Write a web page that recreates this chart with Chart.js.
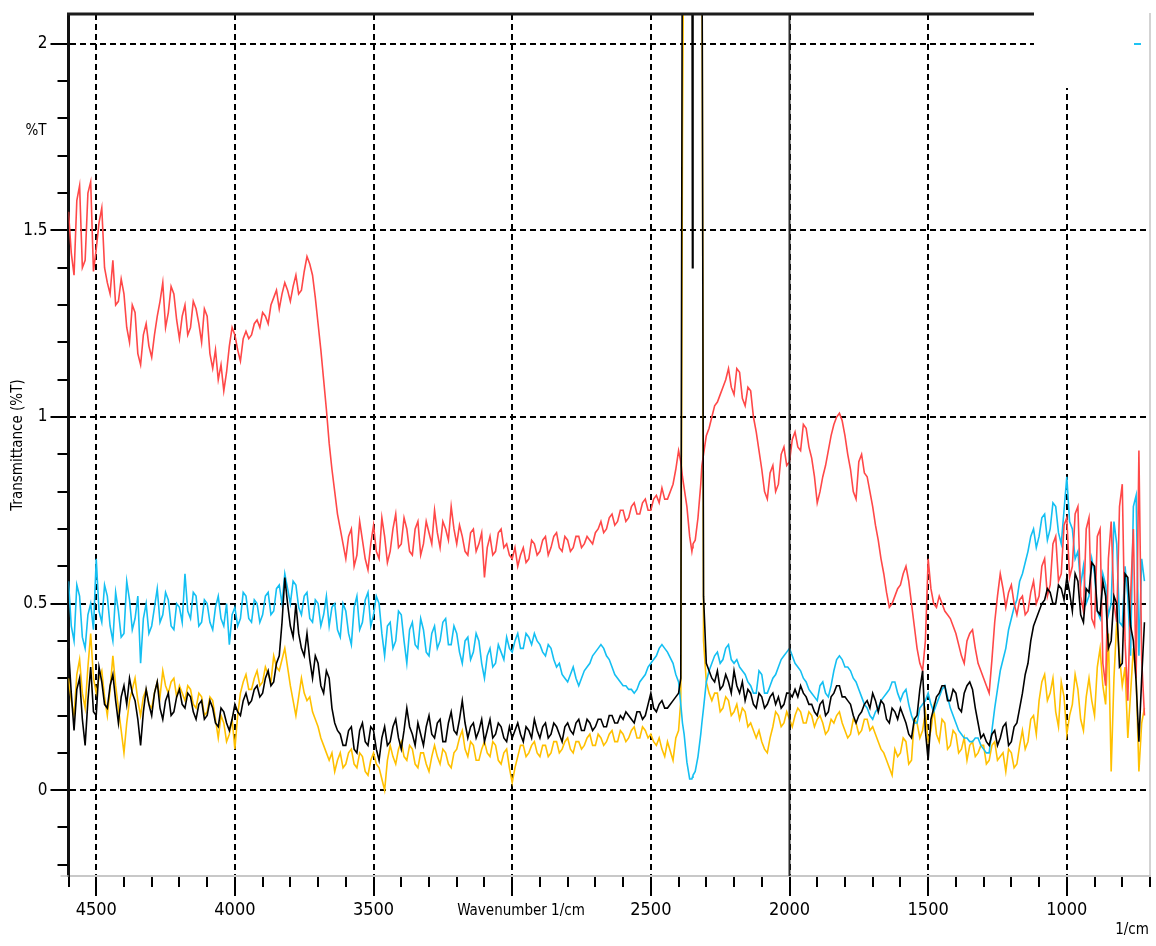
<!DOCTYPE html>
<html><head><meta charset="utf-8">
<script src="https://cdn.jsdelivr.net/npm/chart.js@4/dist/chart.umd.min.js"></script>
<style>html,body{margin:0;padding:0;background:#fff;}canvas{display:block;}</style>
</head><body>
<canvas id="c" width="1156" height="946"></canvas>
<script>
const wavenumbers = [
4600,4590,4580,4570,4560,4550,4540,4530,4520,4510,
4500,4490,4480,4470,4460,4450,4440,4430,4420,4410,
4400,4390,4380,4370,4360,4350,4340,4330,4320,4310,
4300,4290,4280,4270,4260,4250,4240,4230,4220,4210,
4200,4190,4180,4170,4160,4150,4140,4130,4120,4110,
4100,4090,4080,4070,4060,4050,4040,4030,4020,4010,
4000,3990,3980,3970,3960,3950,3940,3930,3920,3910,
3900,3890,3880,3870,3860,3850,3840,3830,3820,3810,
3800,3790,3780,3770,3760,3750,3740,3730,3720,3710,
3700,3690,3680,3670,3660,3650,3640,3630,3620,3610,
3600,3590,3580,3570,3560,3550,3540,3530,3520,3510,
3500,3490,3480,3470,3460,3450,3440,3430,3420,3410,
3400,3390,3380,3370,3360,3350,3340,3330,3320,3310,
3300,3290,3280,3270,3260,3250,3240,3230,3220,3210,
3200,3190,3180,3170,3160,3150,3140,3130,3120,3110,
3100,3090,3080,3070,3060,3050,3040,3030,3020,3010,
3000,2990,2980,2970,2960,2950,2940,2930,2920,2910,
2900,2890,2880,2870,2860,2850,2840,2830,2820,2810,
2800,2790,2780,2770,2760,2750,2740,2730,2720,2710,
2700,2690,2680,2670,2660,2650,2640,2630,2620,2610,
2600,2590,2580,2570,2560,2550,2540,2530,2520,2510,
2500,2490,2480,2470,2460,2450,2440,
2420,2410,2400,2392,2386,2380,2370,2360,2352,2350,2348,2340,2330,2320,2316,2310,2300,2290,
2280,2270,2260,2250,2240,2230,2220,2210,2200,2190,
2180,2170,2160,2150,2140,2130,2120,2110,2100,2090,
2080,2070,2060,2050,2040,2030,2020,2010,2000,1990,
1980,1970,1960,1950,1940,1930,1920,1910,1900,1890,
1880,1870,1860,1850,1840,1830,1820,1810,1800,1790,
1780,1770,1760,1750,1740,1730,1720,1710,1700,1690,
1680,1670,1660,1650,1640,1630,1620,1610,1600,1590,
1580,1570,1560,1550,1540,1530,1520,1510,1500,1490,
1480,1470,1460,1450,1440,1430,1420,1410,1400,1390,
1380,1370,1360,1350,1340,1330,1320,1310,1300,1290,
1280,1270,1260,1250,1240,1230,1220,1210,1200,1190,
1180,1170,1160,1150,1140,1130,1120,1110,1100,1090,
1080,1070,1060,1050,1040,1030,1020,1010,1000,990,
980,970,960,950,940,930,920,910,900,890,
880,870,860,850,840,830,820,810,800,790,
780,770,760,750,740,730,720];

const redSeries = [
1.55,1.44,1.38,1.58,1.62,1.40,1.42,1.60,1.63,1.39,
1.45,1.52,1.56,1.40,1.36,1.33,1.42,1.30,1.31,1.37,
1.33,1.24,1.20,1.30,1.28,1.17,1.14,1.22,1.25,1.19,
1.16,1.22,1.27,1.31,1.36,1.24,1.28,1.35,1.33,1.26,
1.21,1.27,1.30,1.22,1.24,1.31,1.29,1.25,1.20,1.29,
1.27,1.17,1.13,1.18,1.10,1.14,1.07,1.12,1.19,1.24,
1.22,1.18,1.15,1.21,1.23,1.21,1.22,1.25,1.26,1.24,
1.28,1.27,1.25,1.30,1.32,1.34,1.29,1.33,1.36,1.34,
1.31,1.35,1.38,1.33,1.34,1.39,1.43,1.41,1.38,1.32,
1.25,1.18,1.10,1.02,0.93,0.86,0.80,0.74,0.70,0.66,
0.62,0.68,0.70,0.60,0.63,0.72,0.67,0.62,0.59,0.66,
0.71,0.64,0.62,0.73,0.68,0.61,0.64,0.70,0.74,0.65,
0.66,0.73,0.70,0.64,0.63,0.70,0.72,0.63,0.66,0.72,
0.69,0.66,0.75,0.69,0.65,0.72,0.70,0.67,0.76,0.70,
0.66,0.71,0.68,0.64,0.63,0.69,0.70,0.64,0.66,0.69,
0.57,0.65,0.68,0.63,0.64,0.69,0.70,0.65,0.66,0.63,
0.62,0.65,0.60,0.63,0.65,0.61,0.62,0.67,0.66,0.63,
0.64,0.67,0.68,0.63,0.65,0.68,0.69,0.65,0.64,0.68,
0.67,0.64,0.65,0.68,0.68,0.65,0.66,0.68,0.67,0.66,
0.69,0.70,0.72,0.69,0.70,0.73,0.74,0.71,0.72,0.75,
0.75,0.72,0.73,0.76,0.77,0.74,0.74,0.77,0.78,0.75,
0.75,0.78,0.79,0.77,0.81,0.78,0.78,
0.82,0.86,0.91,0.88,0.84,0.81,0.76,0.68,0.64,0.65,0.66,0.67,0.73,0.82,0.87,0.90,0.95,0.97,
1.00,1.03,1.04,1.06,1.08,1.10,1.13,1.08,1.06,1.13,
1.12,1.05,1.03,1.08,1.07,1.00,0.96,0.91,0.86,0.80,
0.78,0.85,0.87,0.80,0.82,0.90,0.92,0.87,0.88,0.94,
0.96,0.92,0.91,0.98,0.97,0.92,0.89,0.84,0.77,0.80,
0.84,0.87,0.91,0.95,0.98,1.00,1.01,0.99,0.95,0.90,
0.86,0.80,0.78,0.88,0.90,0.85,0.84,0.80,0.76,0.71,
0.67,0.62,0.58,0.53,0.49,0.50,0.52,0.54,0.55,0.58,
0.60,0.56,0.50,0.44,0.38,0.34,0.32,0.40,0.62,0.54,
0.50,0.49,0.52,0.50,0.48,0.47,0.46,0.44,0.42,0.39,
0.36,0.34,0.40,0.42,0.43,0.38,0.34,0.32,0.30,0.28,
0.26,0.35,0.45,0.52,0.58,0.54,0.49,0.53,0.55,0.50,
0.47,0.51,0.52,0.47,0.48,0.53,0.56,0.50,0.52,0.60,
0.62,0.52,0.55,0.66,0.68,0.56,0.58,0.71,0.73,0.57,
0.60,0.74,0.76,0.52,0.48,0.70,0.73,0.46,0.44,0.68,
0.70,0.34,0.28,0.62,0.72,0.50,0.45,0.76,0.82,0.40,
0.24,0.52,0.70,0.30,0.91,0.35,0.20];

const cyanSeries = [
0.56,0.44,0.40,0.55,0.52,0.41,0.38,0.47,0.50,0.43,
0.62,0.48,0.45,0.55,0.52,0.44,0.40,0.53,0.48,0.41,
0.42,0.56,0.51,0.43,0.46,0.52,0.34,0.46,0.50,0.42,
0.44,0.49,0.54,0.45,0.47,0.53,0.51,0.44,0.43,0.50,
0.49,0.45,0.58,0.48,0.46,0.53,0.52,0.44,0.45,0.51,
0.50,0.45,0.43,0.49,0.52,0.46,0.44,0.50,0.39,0.47,
0.49,0.44,0.46,0.53,0.52,0.46,0.45,0.51,0.50,0.45,
0.47,0.52,0.53,0.47,0.48,0.54,0.55,0.50,0.58,0.54,
0.50,0.56,0.55,0.49,0.47,0.52,0.53,0.46,0.45,0.51,
0.50,0.44,0.47,0.52,0.44,0.49,0.50,0.43,0.41,0.50,
0.48,0.42,0.39,0.49,0.52,0.43,0.45,0.51,0.53,0.44,
0.47,0.52,0.50,0.42,0.36,0.44,0.45,0.38,0.40,0.48,
0.47,0.40,0.34,0.43,0.45,0.39,0.38,0.46,0.43,0.37,
0.36,0.42,0.44,0.38,0.40,0.45,0.46,0.39,0.39,0.44,
0.42,0.37,0.34,0.40,0.41,0.35,0.37,0.42,0.40,0.34,
0.30,0.36,0.38,0.33,0.34,0.39,0.37,0.35,0.41,0.38,
0.37,0.40,0.42,0.38,0.38,0.42,0.41,0.39,0.42,0.40,
0.39,0.37,0.36,0.39,0.38,0.35,0.33,0.34,0.31,0.30,
0.29,0.31,0.33,0.30,0.28,0.30,0.32,0.33,0.34,0.36,
0.37,0.38,0.39,0.38,0.36,0.35,0.33,0.31,0.30,0.29,
0.28,0.28,0.27,0.27,0.26,0.27,0.29,0.30,0.31,0.33,
0.34,0.35,0.36,0.38,0.39,0.38,0.37,
0.34,0.31,0.29,0.23,0.18,0.15,0.075,0.03,0.03,0.035,0.04,0.05,0.09,0.15,0.18,0.22,0.29,0.32,
0.34,0.36,0.37,0.34,0.35,0.38,0.39,0.35,0.34,0.35,
0.33,0.32,0.31,0.29,0.28,0.26,0.26,0.32,0.31,0.26,
0.26,0.28,0.30,0.31,0.33,0.35,0.36,0.37,0.38,0.36,
0.34,0.33,0.32,0.30,0.29,0.27,0.26,0.25,0.24,0.28,
0.29,0.26,0.25,0.28,0.32,0.35,0.36,0.35,0.33,0.33,
0.32,0.30,0.29,0.27,0.25,0.23,0.22,0.20,0.19,0.21,
0.22,0.24,0.25,0.26,0.27,0.29,0.29,0.26,0.24,0.26,
0.27,0.23,0.20,0.18,0.18,0.22,0.23,0.24,0.26,0.23,
0.21,0.23,0.25,0.27,0.28,0.25,0.22,0.20,0.18,0.16,
0.15,0.14,0.14,0.13,0.13,0.14,0.14,0.12,0.11,0.10,
0.10,0.16,0.22,0.27,0.32,0.35,0.38,0.43,0.46,0.49,
0.51,0.56,0.58,0.61,0.64,0.68,0.70,0.65,0.68,0.73,
0.74,0.67,0.70,0.77,0.76,0.69,0.66,0.75,0.84,0.72,
0.70,0.62,0.64,0.55,0.60,0.50,0.52,0.62,0.58,0.48,
0.46,0.58,0.55,0.47,0.50,0.72,0.66,0.45,0.44,0.60,
0.52,0.36,0.76,0.79,0.36,0.62,0.56];

const blackSeries = [
0.38,0.26,0.16,0.27,0.30,0.19,0.12,0.24,0.33,0.21,
0.20,0.33,0.29,0.23,0.22,0.28,0.31,0.24,0.18,0.25,
0.28,0.23,0.30,0.26,0.24,0.19,0.12,0.21,0.27,0.23,
0.20,0.26,0.29,0.22,0.19,0.24,0.26,0.20,0.21,0.25,
0.27,0.23,0.22,0.26,0.25,0.21,0.19,0.23,0.24,0.19,
0.20,0.24,0.22,0.18,0.17,0.22,0.21,0.18,0.16,0.19,
0.23,0.21,0.20,0.24,0.26,0.23,0.24,0.27,0.28,0.25,
0.26,0.30,0.32,0.28,0.29,0.34,0.36,0.45,0.57,0.50,
0.44,0.41,0.50,0.42,0.38,0.36,0.42,0.35,0.30,0.36,
0.34,0.28,0.26,0.32,0.30,0.22,0.18,0.16,0.15,0.12,
0.12,0.16,0.17,0.11,0.10,0.16,0.18,0.13,0.12,0.17,
0.16,0.11,0.08,0.14,0.17,0.12,0.13,0.17,0.19,0.14,
0.11,0.16,0.22,0.17,0.15,0.12,0.18,0.15,0.12,0.17,
0.20,0.15,0.14,0.18,0.19,0.13,0.13,0.18,0.21,0.16,
0.15,0.19,0.24,0.18,0.14,0.17,0.18,0.14,0.16,0.19,
0.13,0.16,0.19,0.14,0.15,0.18,0.17,0.14,0.13,0.17,
0.14,0.16,0.18,0.15,0.13,0.17,0.16,0.14,0.19,0.16,
0.14,0.17,0.18,0.14,0.15,0.18,0.17,0.15,0.13,0.17,
0.18,0.16,0.15,0.18,0.19,0.16,0.16,0.19,0.18,0.16,
0.17,0.19,0.19,0.17,0.17,0.20,0.20,0.18,0.18,0.20,
0.19,0.21,0.20,0.19,0.18,0.21,0.21,0.19,0.20,0.23,
0.26,0.22,0.21,0.23,0.24,0.22,0.22,
0.24,0.25,0.26,0.30,2.5,2.5,2.5,2.5,2.5,1.40,2.5,2.5,2.5,2.5,2.5,0.52,0.34,0.32,
0.30,0.29,0.32,0.27,0.28,0.31,0.29,0.26,0.32,0.28,
0.26,0.29,0.24,0.27,0.26,0.23,0.22,0.26,0.25,0.22,
0.23,0.25,0.26,0.23,0.25,0.22,0.23,0.26,0.26,0.25,
0.27,0.25,0.28,0.26,0.25,0.23,0.23,0.21,0.20,0.23,
0.24,0.20,0.21,0.25,0.26,0.28,0.28,0.25,0.25,0.24,
0.23,0.20,0.18,0.20,0.21,0.23,0.24,0.22,0.26,0.24,
0.21,0.24,0.23,0.19,0.18,0.22,0.21,0.19,0.22,0.20,
0.18,0.15,0.14,0.19,0.20,0.27,0.32,0.16,0.08,0.19,
0.22,0.25,0.26,0.28,0.28,0.24,0.24,0.27,0.26,0.22,
0.21,0.26,0.28,0.29,0.27,0.22,0.18,0.14,0.15,0.13,
0.12,0.15,0.16,0.12,0.14,0.17,0.18,0.12,0.13,0.17,
0.18,0.22,0.26,0.31,0.34,0.40,0.44,0.46,0.48,0.50,
0.51,0.54,0.53,0.50,0.50,0.55,0.54,0.51,0.57,0.53,
0.48,0.58,0.56,0.47,0.45,0.54,0.53,0.61,0.60,0.48,
0.47,0.56,0.52,0.38,0.40,0.52,0.50,0.33,0.34,0.58,
0.57,0.44,0.40,0.29,0.13,0.30,0.45];

const yellowSeries = [
0.30,0.24,0.20,0.31,0.35,0.26,0.22,0.33,0.42,0.30,
0.26,0.30,0.32,0.25,0.20,0.27,0.36,0.28,0.22,0.16,
0.10,0.18,0.24,0.27,0.30,0.24,0.20,0.25,0.27,0.23,
0.22,0.26,0.29,0.25,0.32,0.28,0.26,0.29,0.30,0.25,
0.28,0.26,0.24,0.28,0.27,0.23,0.22,0.26,0.25,0.20,
0.21,0.25,0.24,0.19,0.14,0.20,0.18,0.13,0.15,0.19,
0.11,0.20,0.26,0.29,0.31,0.27,0.27,0.30,0.32,0.28,
0.29,0.33,0.31,0.29,0.36,0.33,0.32,0.35,0.38,0.33,
0.28,0.24,0.20,0.25,0.30,0.26,0.24,0.25,0.21,0.19,
0.17,0.14,0.12,0.10,0.08,0.10,0.05,0.08,0.10,0.06,
0.07,0.10,0.11,0.07,0.06,0.10,0.09,0.05,0.04,0.08,
0.10,0.07,0.06,0.03,0.00,0.08,0.12,0.09,0.07,0.11,
0.13,0.09,0.08,0.12,0.11,0.07,0.06,0.10,0.10,0.07,
0.05,0.09,0.12,0.09,0.07,0.11,0.10,0.07,0.06,0.10,
0.11,0.14,0.16,0.11,0.09,0.13,0.12,0.08,0.08,0.11,
0.13,0.10,0.09,0.13,0.12,0.08,0.07,0.10,0.11,0.06,
0.02,0.06,0.09,0.12,0.12,0.09,0.10,0.12,0.13,0.10,
0.09,0.12,0.12,0.09,0.10,0.13,0.13,0.10,0.11,0.13,
0.14,0.11,0.10,0.13,0.13,0.11,0.12,0.14,0.15,0.12,
0.12,0.15,0.14,0.12,0.13,0.15,0.16,0.13,0.13,0.16,
0.15,0.13,0.14,0.16,0.17,0.14,0.14,0.17,0.16,0.14,
0.15,0.13,0.12,0.14,0.11,0.09,0.13,
0.08,0.14,0.16,0.24,1.74,2.5,2.5,2.5,2.5,2.5,2.5,2.5,2.5,2.5,2.5,0.40,0.29,0.26,
0.24,0.26,0.26,0.21,0.22,0.25,0.24,0.20,0.21,0.23,
0.19,0.22,0.21,0.17,0.18,0.16,0.14,0.16,0.13,0.11,
0.10,0.14,0.17,0.21,0.20,0.17,0.18,0.21,0.19,0.17,
0.20,0.22,0.21,0.18,0.18,0.21,0.20,0.17,0.19,0.20,
0.18,0.15,0.16,0.19,0.18,0.20,0.21,0.18,0.16,0.14,
0.15,0.19,0.18,0.15,0.16,0.19,0.19,0.16,0.17,0.15,
0.13,0.11,0.10,0.08,0.06,0.04,0.11,0.09,0.10,0.14,
0.13,0.07,0.08,0.19,0.18,0.14,0.16,0.21,0.13,0.16,
0.22,0.15,0.13,0.19,0.18,0.11,0.12,0.16,0.15,0.10,
0.11,0.14,0.08,0.12,0.13,0.09,0.10,0.12,0.12,0.07,
0.08,0.12,0.13,0.08,0.09,0.10,0.05,0.11,0.10,0.06,
0.07,0.12,0.16,0.11,0.13,0.19,0.20,0.15,0.24,0.29,
0.31,0.24,0.26,0.30,0.21,0.17,0.29,0.25,0.15,0.20,
0.23,0.31,0.27,0.19,0.16,0.25,0.30,0.24,0.20,0.33,
0.38,0.28,0.23,0.42,0.05,0.30,0.45,0.36,0.28,0.33,
0.14,0.26,0.38,0.30,0.05,0.18,0.22];

const xMajorTicks = [4500,4000,3500,3000,2500,2000,1500,1000];
const xTickLabels = ['4500','4000','3500','','2500','2000','1500','1000'];
const xMinorTicks = [4600,4400,4300,4200,4100,3900,3800,3700,3600,3400,3300,3200,3100,2900,2800,2700,2600,2400,2300,2200,2100,1900,1800,1700,1600,1400,1300,1200,1100,900,800,700];
const yMajorTicks = [0,0.5,1,1.5,2];
const yTickLabels = ['0','0.5','1','1.5','2'];
const yMinorTicks = [-0.2,-0.1,0.1,0.2,0.3,0.4,0.6,0.7,0.8,0.9,1.1,1.2,1.3,1.4,1.6,1.7,1.8,1.9];
const cursorWavenumber = 2000;
const xRange = [700, 4600];
const yRange = [-0.23, 2.08];

const FONT = "'DejaVu Sans Condensed','DejaVu Sans','Liberation Sans',sans-serif";

function pts(values){ return wavenumbers.map((w,i)=>({x:w,y:values[i]})); }

const decor = {
  id:'decor',
  beforeDatasetsDraw(chart){
    const {ctx, chartArea:a} = chart;
    ctx.save();
    ctx.fillStyle = '#fff';
    ctx.fillRect(a.right-116, 0, 115, 88);
    ctx.restore();
  },
  afterDatasetsDraw(chart){
    const {ctx, chartArea:a, scales:{x,y}} = chart;
    ctx.save();
    ctx.strokeStyle = '#1c1c1c'; ctx.lineWidth = 3;
    ctx.beginPath(); ctx.moveTo(a.left-1.5, a.top); ctx.lineTo(a.right-116, a.top); ctx.stroke();
    ctx.strokeStyle = '#c4c4c4'; ctx.lineWidth = 1.5;
    ctx.beginPath(); ctx.moveTo(a.right, a.top-1); ctx.lineTo(a.right, a.bottom); ctx.stroke();
    ctx.beginPath(); ctx.moveTo(a.left-8, a.bottom); ctx.lineTo(a.left, a.bottom); ctx.stroke();
    ctx.strokeStyle = '#1ec3f3'; ctx.lineWidth = 2;
    const yy = Math.round(y.getPixelForValue(2));
    ctx.beginPath(); ctx.moveTo(a.right-16, yy); ctx.lineTo(a.right-9, yy); ctx.stroke();
    ctx.strokeStyle = '#000'; ctx.lineWidth = 2;
    yMinorTicks.forEach(v=>{ const p = Math.round(y.getPixelForValue(v)); ctx.beginPath(); ctx.moveTo(a.left-11,p); ctx.lineTo(a.left-1,p); ctx.stroke(); });
    xMinorTicks.forEach(v=>{ const p = Math.round(x.getPixelForValue(v)); ctx.beginPath(); ctx.moveTo(p,a.bottom+1); ctx.lineTo(p,a.bottom+11); ctx.stroke(); });
    ctx.fillStyle = '#000';
    ctx.textBaseline = 'middle'; ctx.textAlign = 'center';
    ctx.font = "15px " + FONT;
    ctx.fillText('Wavenumber 1/cm', 521, 911);
    ctx.fillText('1/cm', 1132, 930);
    ctx.fillText('%T', 36, 131);
    ctx.restore();
  }
};

new Chart(document.getElementById('c'), {
  type:'line',
  data:{ datasets:[
    { label:'cursor', data:[{x:cursorWavenumber,y:yRange[0]},{x:cursorWavenumber,y:yRange[1]}], borderColor:'#2a2a2a', borderWidth:2 },
    { label:'black', data:pts(blackSeries), borderColor:'#000000', borderWidth:1.6 },
    { label:'red', data:pts(redSeries), borderColor:'#ff4848', borderWidth:1.6 },
    { label:'cyan', data:pts(cyanSeries), borderColor:'#14bff2', borderWidth:1.6 },
    { label:'yellow', data:pts(yellowSeries), borderColor:'#ffc000', borderWidth:1.6 }
  ]},
  options:{
    responsive:false, animation:false,
    elements:{ point:{radius:0}, line:{tension:0, fill:false} },
    layout:{ padding:{left:0, right:6, top:14, bottom:0} },
    plugins:{ legend:{display:false}, tooltip:{enabled:false} },
    scales:{
      x:{ type:'linear', reverse:true, min:xRange[0], max:xRange[1],
        afterBuildTicks: s => { s.ticks = xMajorTicks.map(v=>({value:v})); },
        afterFit: s => { s.height = 70; },
        grid:{ color:'#000', lineWidth:2, drawTicks:true, tickLength:20, tickColor:'#000', tickWidth:2 },
        border:{ display:true, color:'#c8c8c8', width:2, dash:[6,4] },
        ticks:{ autoSkip:false, maxRotation:0, padding:4, color:'#000', font:{family:FONT, size:18},
          callback: v => { const i = xMajorTicks.indexOf(v); return i >= 0 ? xTickLabels[i] : ''; } }
      },
      y:{ type:'linear', min:yRange[0], max:yRange[1],
        afterBuildTicks: s => { s.ticks = yMajorTicks.map(v=>({value:v})); },
        afterFit: s => { s.width = 68.5; },
        grid:{ color:'#000', lineWidth:2, drawTicks:true, tickLength:18, tickColor:'#000', tickWidth:2 },
        border:{ display:true, color:'#111', width:3, dash:[6,4] },
        ticks:{ padding:3, color:'#000', font:{family:FONT, size:17},
          callback: v => { const i = yMajorTicks.indexOf(v); return i >= 0 ? yTickLabels[i] : ''; } },
        title:{ display:true, text:'Transmittance (%T)', color:'#000', font:{family:FONT, size:15}, padding:{top:9,bottom:0} }
      }
    }
  },
  plugins:[decor]
});
</script>
</body></html>
